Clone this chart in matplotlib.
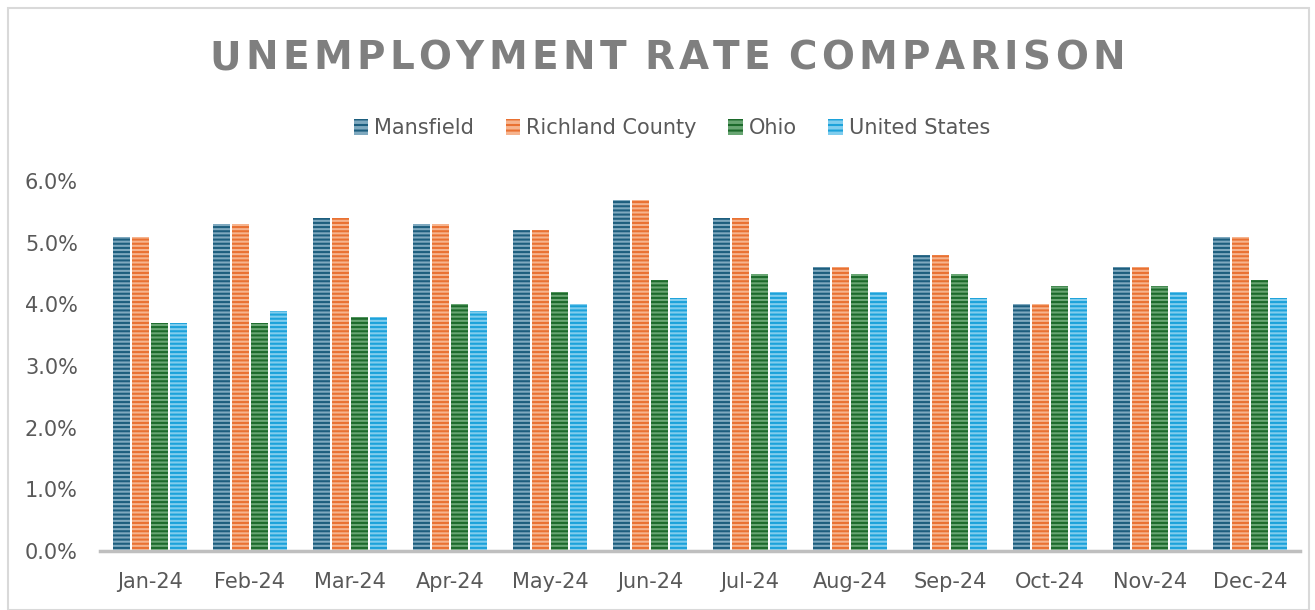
import numpy as np
import matplotlib
matplotlib.use('Agg')
import matplotlib.pyplot as plt
from matplotlib.patches import Rectangle, Patch
from matplotlib.ticker import FuncFormatter

months = ['Jan-24', 'Feb-24', 'Mar-24', 'Apr-24', 'May-24', 'Jun-24',
          'Jul-24', 'Aug-24', 'Sep-24', 'Oct-24', 'Nov-24', 'Dec-24']
series = ['Mansfield', 'Richland County', 'Ohio', 'United States']
mansfield = [5.1, 5.3, 5.4, 5.3, 5.2, 5.7, 5.4, 4.6, 4.8, 4.0, 4.6, 5.1]
richland = [5.1, 5.3, 5.4, 5.3, 5.2, 5.7, 5.4, 4.6, 4.8, 4.0, 4.6, 5.1]
ohio = [3.7, 3.7, 3.8, 4.0, 4.2, 4.4, 4.5, 4.5, 4.5, 4.3, 4.3, 4.4]
usa = [3.7, 3.9, 3.8, 3.9, 4.0, 4.1, 4.2, 4.2, 4.1, 4.1, 4.2, 4.1]

# (light fill, dark stripe)
colors = [('#7FA9BF', '#1D5E7E'), ('#F6B48E', '#E97132'),
          ('#69A673', '#1C6A2B'), ('#80CDEE', '#1CA2DA')]

plt.rcParams['hatch.linewidth'] = 1.5
txt = '#595959'

fig = plt.figure(figsize=(13.15, 6.10), dpi=100)
fig.patches.append(Rectangle((8/1315, 0), (1309-8)/1315, 1-8/610, transform=fig.transFigure,
                             fill=False, edgecolor='#D9D9D9', linewidth=1.5))

ax = fig.add_axes([100/1315, 1-551/610, 1200/1315, 370/610])
x = np.arange(len(months))
w = 0.17
step = 0.19
for i, vals in enumerate([mansfield, richland, ohio, usa]):
    light, dark = colors[i]
    ax.bar(x + (i-1.5)*step, vals, w, color=light, edgecolor=dark, hatch='----', linewidth=0)

ax.set_xlim(-0.5, 11.5)
ax.set_ylim(0, 6.0)
ax.set_yticks(np.arange(0, 6.1, 1))
ax.yaxis.set_major_formatter(FuncFormatter(lambda v, p: '{:.1f}%'.format(v)))
ax.set_xticks(x)
ax.set_xticklabels(months)
ax.tick_params(length=0, labelsize=15, colors=txt)
ax.tick_params('x', pad=15)
ax.tick_params('y', pad=16)
for s in ['top', 'right', 'left']:
    ax.spines[s].set_visible(False)
ax.spines['bottom'].set_color('#BFBFBF')
ax.spines['bottom'].set_linewidth(2.5)

handles = [Patch(facecolor=c[0], edgecolor=c[1], hatch='---', linewidth=0) for c in colors]
fig.legend(handles, series, loc='center', bbox_to_anchor=(672/1315, 1-128/610), ncol=4,
           frameon=False, fontsize=15, labelcolor=txt, handlelength=0.7, handleheight=0.8,
           handletextpad=0.3, columnspacing=1.5)

# title with letter spacing
title = 'UNEMPLOYMENT RATE COMPARISON'
fig.canvas.draw()
r = fig.canvas.get_renderer()
tracking = 4.4
ws = []
for ch in title:
    t = fig.text(0, 0, ch if ch != ' ' else 'I', fontsize=28, fontweight='bold')
    ws.append(t.get_window_extent(r).width if ch != ' ' else 9)
    t.remove()
total = sum(ws) + tracking*(len(title)-1)
xpos = 667 - total/2
for ch, cw in zip(title, ws):
    if ch != ' ':
        fig.text(xpos/1315, 1-58/610, ch, fontsize=28, fontweight='bold', color='#7F7F7F',
                 va='center', ha='left')
    xpos += cw + tracking

plt.savefig('out.png', dpi=100)
